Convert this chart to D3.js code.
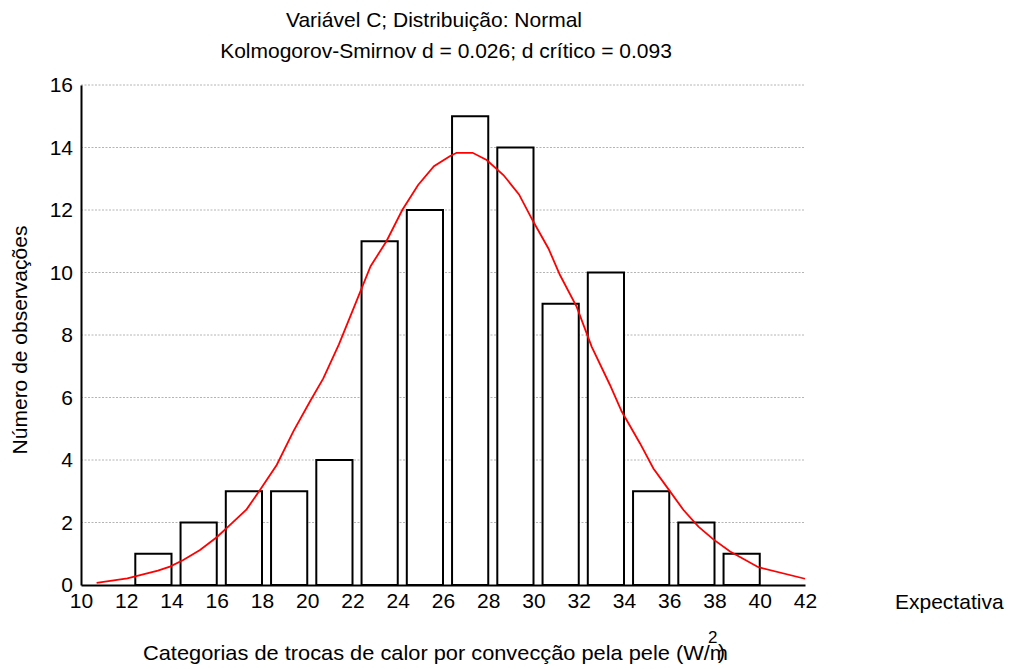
<!DOCTYPE html>
<html>
<head>
<meta charset="utf-8">
<script src="https://cdn.jsdelivr.net/npm/d3@7"></script>
<style>
  body { margin: 0; background: #fff; }
  text { font-family: "Liberation Sans", Arial, sans-serif; fill: #000; }
</style>
</head>
<body>
<div id="chart"></div>
<script>
// Histogram bins (lower edge, upper edge) and observed counts
const binLow = [12, 14, 16, 18, 20, 22, 24, 26, 28, 30, 32, 34, 36, 38];
const binHigh = [14, 16, 18, 20, 22, 24, 26, 28, 30, 32, 34, 36, 38, 40];
const counts = [1, 2, 3, 3, 4, 11, 12, 15, 14, 9, 10, 3, 2, 1];

// Expected normal curve
const curveX = [10.69, 12.05, 12.7, 13.4, 13.93, 14.52, 15.26, 16.0, 16.66, 17.32, 17.91, 18.65,
  19.38, 20.12, 20.71, 21.4, 22.1, 22.8, 23.5, 24.2, 24.9, 25.6, 26.3, 26.6, 27.31, 27.93,
  28.67, 29.36, 29.99, 30.66, 31.17, 31.91, 32.57, 33.38, 33.9, 34.71, 35.3, 35.97, 36.63,
  37.29, 37.95, 38.69, 39.94, 42.0];
const curveY = [0.07, 0.21, 0.33, 0.46, 0.59, 0.8, 1.12, 1.53, 1.97, 2.42, 3.04, 3.84,
  4.91, 5.87, 6.61, 7.7, 8.95, 10.2, 11.0, 12.0, 12.8, 13.4, 13.72, 13.83, 13.83, 13.6,
  13.12, 12.5, 11.63, 10.77, 9.92, 8.9, 7.63, 6.4, 5.55, 4.53, 3.73, 3.06, 2.4,
  1.87, 1.46, 1.07, 0.57, 0.2];

const xTicks = [10, 12, 14, 16, 18, 20, 22, 24, 26, 28, 30, 32, 34, 36, 38, 40, 42];
const yTicks = [0, 2, 4, 6, 8, 10, 12, 14, 16];

const margin = { top: 85, right: 210, bottom: 84, left: 81 };
const width = 1015 - margin.left - margin.right;
const height = 669 - margin.top - margin.bottom;

const root = d3.select("#chart")
  .append("svg")
  .attr("width", 1015)
  .attr("height", 669);

const svg = root.append("g")
  .attr("transform", "translate(" + margin.left + "," + margin.top + ")");

const x = d3.scaleLinear().domain([10, 42]).range([0, width]);
const y = d3.scaleLinear().domain([0, 16]).range([height, 0]);

// Gridlines (dotted)
svg.append("g")
  .selectAll("line")
  .data(yTicks.filter(d => d > 0))
  .enter().append("line")
  .attr("x1", 0)
  .attr("x2", width)
  .attr("y1", d => y(d))
  .attr("y2", d => y(d))
  .attr("stroke", "#b4b4b4")
  .attr("stroke-width", 1)
  .attr("stroke-dasharray", "2,1.5");

// Bars, with a small gap on the left of each bin
const gap = 0.4;
svg.selectAll(".bar")
  .data(counts)
  .enter().append("rect")
  .attr("class", "bar")
  .attr("x", (d, i) => x(binLow[i] + gap))
  .attr("y", d => y(d))
  .attr("width", (d, i) => x(binHigh[i]) - x(binLow[i] + gap))
  .attr("height", d => y(0) - y(d))
  .attr("fill", "#fff")
  .attr("stroke", "#000")
  .attr("stroke-width", 2);

// Expected normal curve
const line = d3.line()
  .x((d, i) => x(curveX[i]))
  .y(d => y(d));

svg.append("path")
  .datum(curveY)
  .attr("d", line)
  .attr("fill", "none")
  .attr("stroke", "#ff0000")
  .attr("stroke-width", 1.8);

// Axes
const xAxis = svg.append("g")
  .attr("transform", "translate(0," + height + ")")
  .call(d3.axisBottom(x).tickValues(xTicks).tickSize(0).tickPadding(8));
xAxis.select(".domain").attr("stroke-width", 2);
xAxis.selectAll("text").style("font-size", "21px").attr("font-family", null);

const yAxis = svg.append("g")
  .call(d3.axisLeft(y).tickValues(yTicks).tickSize(0).tickPadding(8));
yAxis.select(".domain").attr("stroke-width", 2);
yAxis.selectAll("text").style("font-size", "21px").attr("font-family", null);

// Titles
root.append("text")
  .attr("x", 434)
  .attr("y", 27)
  .attr("text-anchor", "middle")
  .style("font-size", "21px")
  .text("Variável C; Distribuição: Normal");

root.append("text")
  .attr("x", 446)
  .attr("y", 58)
  .attr("text-anchor", "middle")
  .style("font-size", "21px")
  .text("Kolmogorov-Smirnov d = 0.026; d crítico = 0.093");

// Y axis label
root.append("text")
  .attr("transform", "rotate(-90)")
  .attr("x", -340)
  .attr("y", 27)
  .attr("text-anchor", "middle")
  .style("font-size", "21px")
  .text("Número de observações");

// X axis label with the misplaced superscript
const xLabel = root.append("text")
  .attr("x", 143)
  .attr("y", 660)
  .attr("textLength", 585)
  .attr("lengthAdjust", "spacingAndGlyphs")
  .style("font-size", "21px")
  .text("Categorias de trocas de calor por convecção pela pele (W/m");

const labelEnd = 143 + 585;

root.append("text")
  .attr("x", labelEnd - 20)
  .attr("y", 643)
  .style("font-size", "17px")
  .text("2");

root.append("text")
  .attr("x", labelEnd - 10)
  .attr("y", 659)
  .style("font-size", "21px")
  .text(")");

// Legend text
root.append("text")
  .attr("x", 895)
  .attr("y", 609)
  .style("font-size", "21px")
  .text("Expectativa");
</script>
</body>
</html>
